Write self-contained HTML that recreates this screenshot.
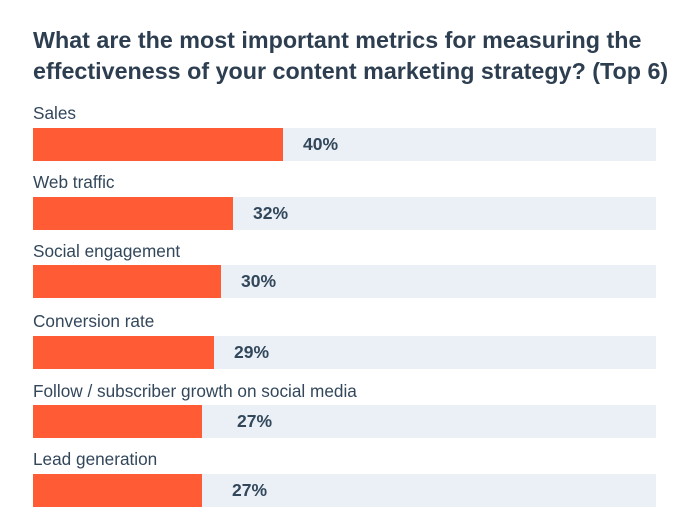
<!DOCTYPE html>
<html><head><style>
body{margin:0;width:677px;height:524px;background:#fff;font-family:"Liberation Sans",sans-serif;color:#33475b;position:relative;overflow:hidden}
.t{position:absolute;left:33px;top:25px;font-size:23.3px;font-weight:bold;line-height:31px;color:#2d3e50;white-space:nowrap}
.l{position:absolute;left:33px;font-size:17.2px;color:#33475b;white-space:nowrap}
.bg{position:absolute;left:33px;width:623px;height:33px;background:#eaf0f6}
.b{position:absolute;left:0;top:0;height:33px;background:#ff5c35}
.p{position:absolute;top:0;line-height:33px;font-size:17.5px;font-weight:bold;color:#33475b}
</style></head><body>
<div class="t">What are the most important metrics for measuring the<br>effectiveness of your content marketing strategy? (Top 6)</div>

<div class="l" style="top:103px">Sales</div>
<div class="bg" style="top:128px"><div class="b" style="width:250px"></div><div class="p" style="left:270px">40%</div></div>

<div class="l" style="top:172px">Web traffic</div>
<div class="bg" style="top:197px"><div class="b" style="width:200px"></div><div class="p" style="left:220px">32%</div></div>

<div class="l" style="top:241px">Social engagement</div>
<div class="bg" style="top:265px"><div class="b" style="width:188px"></div><div class="p" style="left:208px">30%</div></div>

<div class="l" style="top:311px">Conversion rate</div>
<div class="bg" style="top:336px"><div class="b" style="width:181px"></div><div class="p" style="left:201px">29%</div></div>

<div class="l" style="top:381px">Follow / subscriber growth on social media</div>
<div class="bg" style="top:405px"><div class="b" style="width:169px"></div><div class="p" style="left:204px">27%</div></div>

<div class="l" style="top:449px">Lead generation</div>
<div class="bg" style="top:474px"><div class="b" style="width:169px"></div><div class="p" style="left:199px">27%</div></div>
</body></html>
